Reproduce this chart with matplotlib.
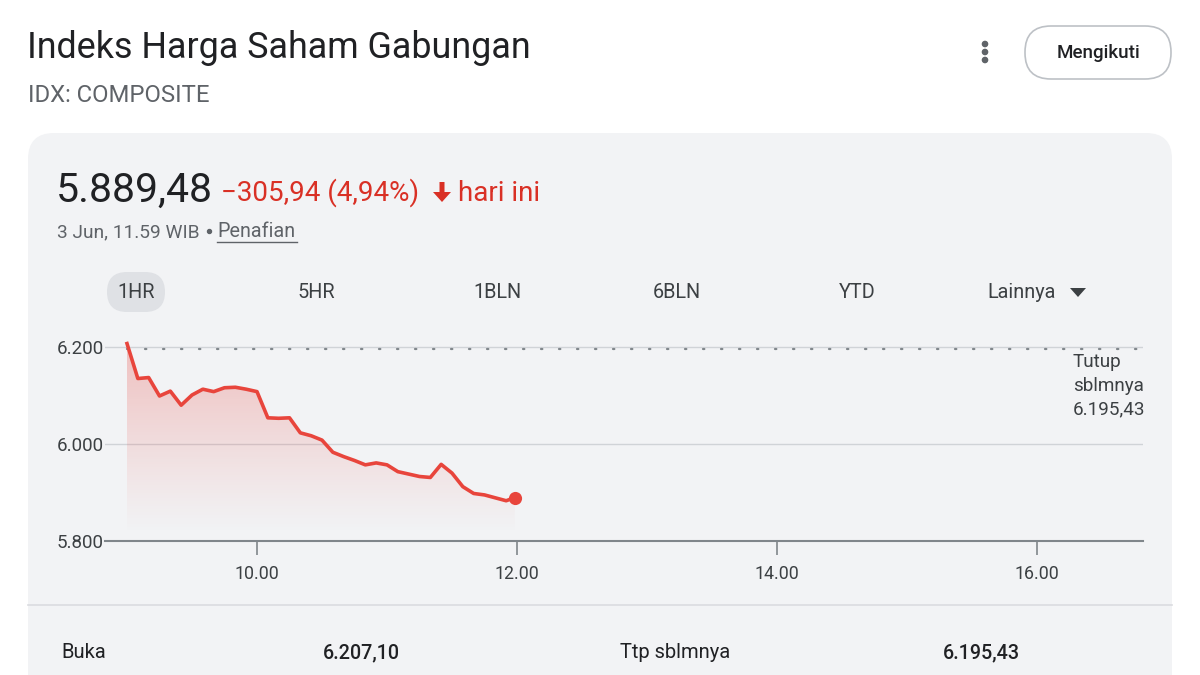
import matplotlib
matplotlib.use("Agg")
import matplotlib.pyplot as plt
import numpy as np
from matplotlib.patches import FancyBboxPatch, Polygon, Circle

plt.rcParams['font.family'] = ['Roboto', 'DejaVu Sans']

# ---------------- data ----------------
times = ["09:00", "09:05", "09:10", "09:15", "09:20", "09:25", "09:30", "09:35",
         "09:40", "09:45", "09:50", "09:55", "10:00", "10:05", "10:10", "10:15",
         "10:20", "10:25", "10:30", "10:35", "10:40", "10:45", "10:50", "10:55",
         "11:00", "11:05", "11:10", "11:15", "11:20", "11:25", "11:30", "11:35",
         "11:40", "11:45", "11:50", "11:55", "11:59"]
values = [6207.1, 6135, 6137, 6099, 6109, 6080, 6101, 6113,
          6108, 6116, 6117, 6113, 6108, 6054, 6053, 6054,
          6023, 6017, 6008, 5983, 5974, 5966, 5957, 5961,
          5957, 5943, 5938, 5933, 5931, 5958, 5940, 5912,
          5898, 5895, 5889, 5883, 5889.48]
prev_close = 6195.43
y_ticks = [5800, 6000, 6200]
y_tick_labels = ["5.800", "6.000", "6.200"]
x_ticks = [10, 12, 14, 16]
x_tick_labels = ["10.00", "12.00", "14.00", "16.00"]
tabs = ["1HR", "5HR", "1BLN", "6BLN", "YTD", "Lainnya"]

hours = [int(t[:2]) + int(t[3:]) / 60 for t in times]

W, H = 1200, 675
fig = plt.figure(figsize=(12, 6.75), dpi=100)
fig.patch.set_facecolor("white")

bg = fig.add_axes([0, 0, 1, 1], zorder=0)
bg.set_xlim(0, W)
bg.set_ylim(H, 0)
bg.axis("off")

DARK = "#202124"
GRAY = "#5f6368"
MID = "#3c4043"
RED = "#d93025"
LINE_RED = "#e8453c"
CARD = "#f2f3f5"

# title
bg.text(27, 58, "Indeks Harga Saham Gabungan", fontsize=25.8, color=DARK, va="baseline")
bg.text(28, 102, "IDX: COMPOSITE", fontsize=17.2, color=GRAY, va="baseline")

# three dots
for yy in (44, 52, 60):
    bg.add_patch(Circle((985, yy), 2.6, color=GRAY))

# button
bg.add_patch(FancyBboxPatch((1025, 26), 146, 53, boxstyle="round,pad=0,rounding_size=26",
                            fc="white", ec="#bdc1c6", lw=1.2))
bg.text(1098, 53, "Mengikuti", fontsize=13.5, color=DARK, ha="center", va="center",
        fontweight="medium")

# card
bg.add_patch(FancyBboxPatch((28, 133), 1144, 600, boxstyle="round,pad=0,rounding_size=26",
                            fc=CARD, ec="none"))
bg.plot([28, 1172], [605, 605], color="#dadce0", lw=1.2)

# price
bg.text(56, 202, "5.889,48", fontsize=29.5, color=DARK, va="baseline")
bg.text(221, 201, "\u2212305,94 (4,94%)", fontsize=20, color=RED, va="baseline")
bg.add_patch(Polygon([(439.5, 182), (444.5, 182), (444.5, 192), (451, 192), (442, 202),
                      (433, 192), (439.5, 192)], closed=True, color=RED, lw=0))
bg.text(458, 201, "hari ini", fontsize=20, color=RED, va="baseline")

bg.text(57, 237, "3 Jun, 11.59 WIB", fontsize=13.8, color=GRAY, va="baseline")
bg.add_patch(Circle((209.5, 231.5), 2.0, color=GRAY))
bg.text(217, 237, "Penafian", fontsize=14.2, color=GRAY, va="baseline")
bg.plot([217, 297], [241.5, 241.5], color=GRAY, lw=1)

# tabs
tab_x = [136, 316, 497, 677, 857, 1022]
bg.add_patch(FancyBboxPatch((107, 272), 58, 40, boxstyle="round,pad=0,rounding_size=20",
                            fc="#dfe1e5", ec="none"))
for tx, lab in zip(tab_x, tabs):
    bg.text(tx, 298, lab, fontsize=14.3, color=MID, ha="center", va="baseline")
bg.add_patch(Polygon([(1070, 288), (1086, 288), (1078, 297)], closed=True, color=MID, lw=0))

# right labels
bg.text(1073, 367, "Tutup", fontsize=13.6, color=MID, va="baseline")
bg.text(1073, 391, "sblmnya", fontsize=13.6, color=MID, va="baseline")
bg.text(1073, 414, "6.195,43", fontsize=13.6, color=MID, va="baseline")

# bottom row
bg.text(61, 658, "Buka", fontsize=14.5, color=DARK, va="baseline")
bg.text(323, 658, "6.207,10", fontsize=14.2, color=DARK, va="baseline", fontweight="medium")
bg.text(620, 658, "Ttp sblmnya", fontsize=14.5, color=DARK, va="baseline")
bg.text(943, 658, "6.195,43", fontsize=14.2, color=DARK, va="baseline", fontweight="medium")

# ---------------- chart axes ----------------
x0_px, x1_px = 105, 1143
ymin, ymax = 5800, 6240
px_per_unit = (541 - 347) / 400.0
top_px = 541 - (ymax - ymin) * px_per_unit
xpx_per_h = (1037 - 257) / 6.0
xmin = 10 - (257 - x0_px) / xpx_per_h
xmax = 10 + (x1_px - 257) / xpx_per_h

ax = fig.add_axes([x0_px / W, 1 - 541 / H, (x1_px - x0_px) / W, (541 - top_px) / H], zorder=1)
ax.set_xlim(xmin, xmax)
ax.set_ylim(ymin, ymax)
ax.patch.set_alpha(0)
for s in ("top", "right", "left"):
    ax.spines[s].set_visible(False)
ax.spines["bottom"].set_color("#80868b")
ax.spines["bottom"].set_linewidth(1.5)

for yt in y_ticks[1:]:
    ax.axhline(yt, color="#d0d3d7", lw=1, zorder=1)
ax.plot([hours[0], xmax], [prev_close, prev_close], color="#80868b", lw=1.6,
        linestyle=(0, (0.6, 7.5)), dash_capstyle="round", zorder=2)

# gradient fill
poly_x = [hours[0]] + hours + [hours[-1]]
poly_y = [5815] + values + [5815]
fill = ax.fill(poly_x, poly_y, color="none", lw=0)[0]
grad = np.linspace(0, 1, 256).reshape(-1, 1)
rgba = np.zeros((256, 1, 4))
rgba[..., 0] = 0.91
rgba[..., 1] = 0.27
rgba[..., 2] = 0.24
rgba[..., 3] = (grad ** 1.1) * 0.30
im = ax.imshow(rgba, extent=[hours[0], hours[-1], 5815, 6210], origin="lower",
               aspect="auto", zorder=2, interpolation="bilinear")
im.set_clip_path(fill)

ax.plot(hours, values, color=LINE_RED, lw=2.6, solid_joinstyle="round", zorder=3)
ax.scatter([hours[-1]], [values[-1]], s=90, color=LINE_RED, zorder=4, lw=0)

ax.set_yticks(y_ticks)
ax.set_yticklabels(y_tick_labels)
ax.tick_params(axis="y", length=0, pad=1, labelsize=13.5, labelcolor=MID)
ax.set_xticks(x_ticks)
ax.set_xticklabels(x_tick_labels)
ax.tick_params(axis="x", length=10, width=1.2, color="#80868b", pad=7,
               labelsize=12.8, labelcolor=MID)

fig.savefig("out.png", dpi=100, facecolor="white")
